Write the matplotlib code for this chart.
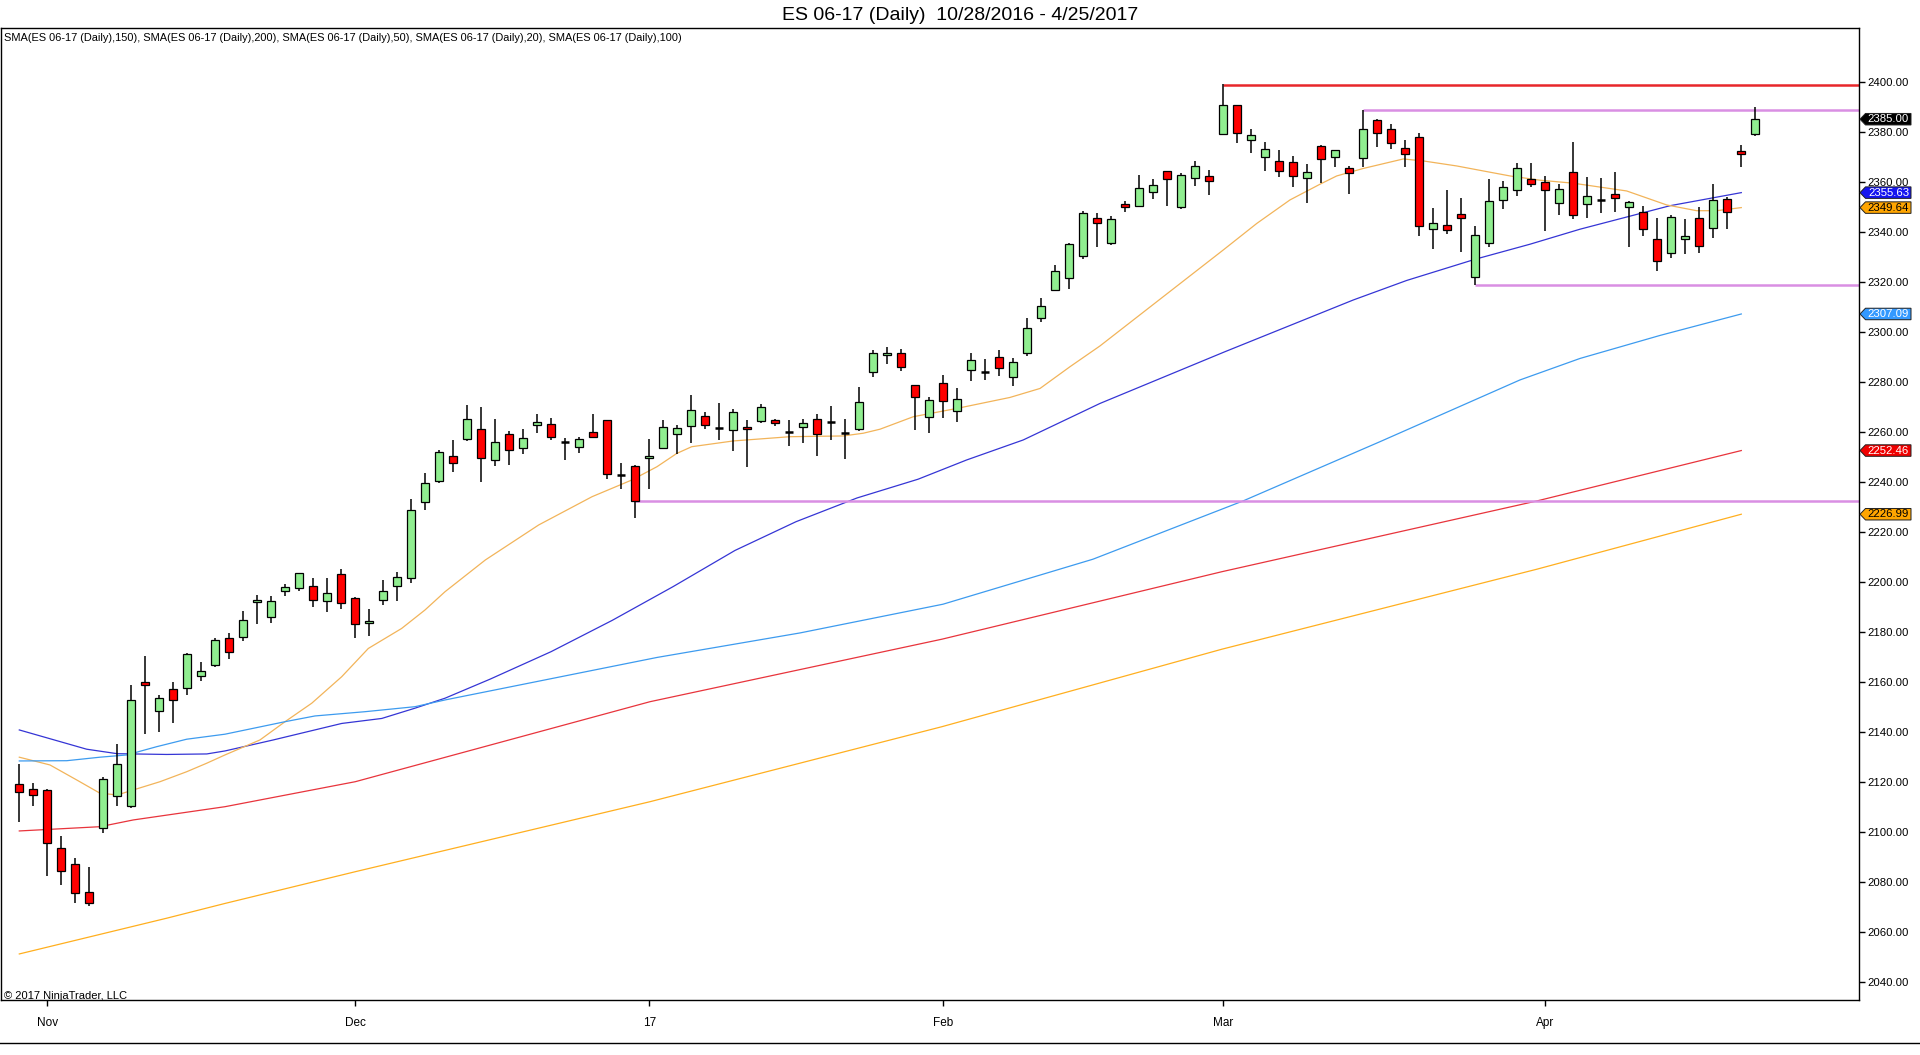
import matplotlib
matplotlib.use("Agg")
import matplotlib.pyplot as plt
import numpy as np
from matplotlib.patches import Polygon
from matplotlib.lines import Line2D
from matplotlib.transforms import blended_transform_factory

plt.rcParams['font.family'] = ['Liberation Sans', 'DejaVu Sans']

# ---------------- data ----------------
opens = [2119.0, 2117.0, 2116.6, 2093.4, 2087.0, 2075.8, 2101.4, 2114.2, 2110.2, 2159.7,
         2148.2, 2157.2, 2157.3, 2162.2, 2166.7, 2177.3, 2178.0, 2191.7, 2186.0, 2196.1,
         2197.3, 2198.1, 2192.3, 2203.0, 2193.3, 2183.3, 2192.5, 2198.2, 2201.3, 2231.7,
         2240.2, 2250.1, 2256.9, 2260.9, 2248.5, 2258.9, 2253.4, 2262.6, 2262.9, 2256.0,
         2253.8, 2259.7, 2264.5, 2242.7, 2246.1, 2249.3, 2253.6, 2258.9, 2262.1, 2266.1,
         2261.6, 2260.5, 2261.7, 2264.2, 2264.7, 2259.7, 2262.0, 2264.9, 2263.9, 2259.6,
         2261.0, 2283.7, 2290.5, 2291.3, 2278.5, 2266.0, 2279.3, 2268.2, 2284.5, 2284.0,
         2289.7, 2281.7, 2291.3, 2305.3, 2316.5, 2321.4, 2330.1, 2345.3, 2335.3, 2350.9,
         2350.3, 2355.7, 2364.1, 2349.7, 2361.3, 2362.1, 2378.9, 2390.5, 2376.5, 2369.7,
         2368.2, 2367.8, 2361.3, 2374.1, 2369.7, 2365.6, 2369.4, 2384.5, 2381.0, 2373.3,
         2377.7, 2340.9, 2342.8, 2346.9, 2321.7, 2335.3, 2352.5, 2356.5, 2360.9, 2359.7,
         2351.4, 2363.9, 2351.0, 2352.8, 2355.0, 2349.7, 2347.7, 2336.9, 2331.3, 2337.2,
         2345.5, 2341.4, 2353.1, 2372.3, 2379.0]
highs = [2127.1, 2119.6, 2117.0, 2098.3, 2089.4, 2086.0, 2121.9, 2135.1, 2158.7, 2170.3,
         2154.6, 2159.8, 2171.3, 2167.7, 2177.3, 2179.3, 2188.3, 2194.7, 2194.3, 2199.1,
         2203.6, 2201.3, 2201.3, 2204.9, 2193.7, 2188.9, 2200.7, 2203.7, 2233.1, 2243.3,
         2252.6, 2256.7, 2270.7, 2269.7, 2264.9, 2260.3, 2261.0, 2267.1, 2265.3, 2257.4,
         2257.7, 2267.1, 2264.5, 2247.4, 2246.8, 2257.1, 2264.7, 2262.5, 2274.5, 2267.9,
         2271.5, 2269.1, 2264.7, 2271.1, 2264.9, 2264.7, 2265.0, 2266.9, 2270.1, 2265.0,
         2277.7, 2292.7, 2293.9, 2292.9, 2278.5, 2273.7, 2282.7, 2277.3, 2291.3, 2288.9,
         2292.5, 2289.4, 2305.5, 2313.4, 2326.5, 2335.4, 2348.4, 2347.3, 2346.3, 2352.1,
         2362.7, 2361.1, 2364.1, 2363.3, 2368.3, 2364.7, 2398.9, 2390.5, 2381.1, 2375.7,
         2372.7, 2370.4, 2367.0, 2374.5, 2372.5, 2366.3, 2388.7, 2385.1, 2383.1, 2376.7,
         2379.3, 2349.5, 2356.7, 2353.5, 2342.3, 2361.1, 2360.4, 2367.5, 2367.6, 2362.3,
         2359.1, 2375.9, 2361.7, 2361.3, 2363.9, 2352.3, 2350.1, 2345.5, 2346.5, 2344.9,
         2349.7, 2358.9, 2353.7, 2374.7, 2390.0]
lows = [2104.0, 2110.4, 2082.4, 2078.8, 2071.4, 2070.4, 2099.6, 2110.4, 2109.6, 2139.2,
        2140.0, 2143.6, 2154.6, 2160.4, 2165.7, 2169.2, 2176.4, 2183.2, 2183.6, 2194.4,
        2196.4, 2190.0, 2188.0, 2189.2, 2177.6, 2178.3, 2190.6, 2192.4, 2199.4, 2228.8,
        2239.6, 2244.0, 2256.4, 2240.0, 2246.4, 2246.8, 2251.2, 2259.6, 2256.7, 2248.8,
        2251.6, 2257.6, 2241.0, 2237.0, 2225.4, 2237.0, 2253.2, 2251.2, 2255.6, 2260.9,
        2256.8, 2252.4, 2245.7, 2263.6, 2262.4, 2254.4, 2255.6, 2250.3, 2256.8, 2249.0,
        2260.3, 2281.7, 2286.9, 2284.4, 2260.7, 2259.6, 2265.6, 2264.0, 2280.4, 2280.7,
        2282.4, 2278.4, 2290.4, 2304.0, 2316.1, 2317.2, 2329.2, 2334.0, 2334.8, 2348.0,
        2349.9, 2353.1, 2350.4, 2348.9, 2358.4, 2354.8, 2378.9, 2375.6, 2371.6, 2364.4,
        2362.0, 2358.0, 2351.6, 2359.6, 2366.0, 2355.2, 2366.0, 2374.0, 2373.2, 2366.0,
        2338.4, 2333.2, 2338.9, 2332.0, 2318.7, 2334.0, 2349.2, 2354.4, 2358.0, 2340.4,
        2346.8, 2345.0, 2345.4, 2347.6, 2348.0, 2333.7, 2338.1, 2324.4, 2329.4, 2331.0,
        2331.6, 2337.6, 2341.0, 2366.0, 2378.3]
closes = [2115.8, 2114.6, 2095.4, 2084.2, 2075.4, 2071.4, 2121.0, 2126.9, 2152.6, 2158.5,
          2153.4, 2152.6, 2171.0, 2164.1, 2176.5, 2172.0, 2184.7, 2192.7, 2192.3, 2197.7,
          2203.3, 2192.5, 2195.3, 2191.4, 2183.2, 2184.3, 2196.1, 2202.0, 2228.5, 2239.4,
          2251.7, 2247.3, 2264.9, 2249.3, 2255.7, 2252.5, 2257.3, 2263.7, 2257.8, 2256.0,
          2257.0, 2258.0, 2242.9, 2242.7, 2232.2, 2250.1, 2261.7, 2261.3, 2268.5, 2262.5,
          2261.6, 2267.7, 2260.9, 2269.7, 2263.3, 2259.7, 2263.3, 2258.9, 2263.9, 2259.6,
          2271.7, 2291.3, 2291.5, 2286.0, 2273.7, 2272.5, 2272.1, 2273.2, 2288.5, 2284.0,
          2285.4, 2287.7, 2301.4, 2310.2, 2324.1, 2335.0, 2347.6, 2343.3, 2344.9, 2350.0,
          2357.3, 2358.5, 2361.0, 2362.5, 2366.2, 2360.1, 2390.5, 2379.3, 2378.5, 2373.0,
          2364.2, 2362.1, 2363.8, 2368.9, 2372.5, 2363.3, 2381.0, 2379.6, 2375.4, 2371.0,
          2342.4, 2343.3, 2340.5, 2345.3, 2338.5, 2352.1, 2357.7, 2365.3, 2359.2, 2356.5,
          2357.0, 2346.8, 2354.1, 2352.8, 2353.3, 2351.7, 2340.9, 2328.1, 2345.7, 2338.3,
          2334.1, 2352.5, 2347.7, 2371.0, 2385.0]

month_labels = ["Nov", "Dec", "17", "Feb", "Mar", "Apr"]
month_bars = [2, 24, 45, 66, 86, 109]

# moving averages (bar position, value)
sma20_x = [0, 2.19, 4.1, 5.76, 7.0, 8.14, 10.05, 11.96, 13.39, 14.69, 17.19, 18.98, 20.89,
           23.03, 24.93, 27.31, 28.98, 30.41, 33.29, 37.1, 40.91, 43.76, 45.55, 46.96, 48.03,
           51.0, 55.05, 58.86, 60.29, 61.48, 63.86, 66.96, 70.76, 72.91, 75.05, 77.19, 81.48,
           86.0, 88.39, 90.76, 92.91, 94.1, 96.0, 98.86, 100.29, 102.67, 104.57, 106.48,
           108.62, 111.0, 114.81, 117.67, 119.81, 121.24, 123]
sma20_y = [2129.8, 2126.7, 2120.7, 2115.4, 2114.7, 2116.7, 2120.0, 2124.0, 2127.4, 2130.7,
           2136.7, 2144.0, 2151.4, 2162.0, 2173.3, 2181.3, 2188.7, 2196.0, 2208.7, 2222.7,
           2234.0, 2240.7, 2246.0, 2251.3, 2254.0, 2256.3, 2258.0, 2258.3, 2259.4, 2261.0,
           2266.0, 2269.3, 2273.7, 2277.3, 2286.0, 2294.3, 2313.0, 2332.7, 2343.3, 2352.7,
           2359.0, 2362.3, 2365.3, 2369.1, 2368.3, 2366.3, 2364.3, 2362.3, 2360.6, 2359.4,
           2356.3, 2350.7, 2348.4, 2348.4, 2349.64]
sma50_x = [0, 4.81, 7.0, 10.53, 13.39, 14.69, 18.14, 23.03, 25.89, 28.26, 30.41, 33.62, 37.98,
           42.34, 46.69, 51.12, 55.48, 59.84, 64.2, 67.67, 71.71, 77.19, 86.12, 95.29, 99.1,
           104.0, 107.91, 111.48, 117.91, 123]
sma50_y = [2140.7, 2133.0, 2131.2, 2130.9, 2131.1, 2132.3, 2136.7, 2143.3, 2145.3, 2149.4,
           2153.4, 2161.0, 2172.0, 2184.5, 2198.0, 2212.5, 2224.0, 2233.5, 2241.0, 2248.7,
           2256.7, 2271.3, 2292.0, 2312.7, 2320.5, 2329.0, 2335.0, 2341.0, 2350.4, 2355.63]
sma100_x = [0, 3.39, 5.76, 7.67, 9.81, 11.96, 14.69, 18.98, 21.12, 24.69, 28.26, 30.41, 45.55,
            55.76, 65.98, 76.69, 87.41, 97.19, 107.19, 111.48, 117.19, 123]
sma100_y = [2128.3, 2128.4, 2129.8, 2130.7, 2134.0, 2137.0, 2139.0, 2144.0, 2146.3, 2148.0,
            2150.0, 2152.7, 2169.7, 2179.5, 2191.0, 2209.0, 2232.3, 2256.0, 2280.7, 2289.3,
            2298.5, 2307.09]
sma150_x = [0, 5.76, 8.14, 14.69, 24.0, 45.05, 65.9, 85.9, 108.4, 123]
sma150_y = [2100.3, 2102.0, 2104.7, 2110.0, 2120.0, 2152.0, 2177.0, 2204.0, 2232.3, 2252.46]
sma200_x = [0, 10.53, 14.69, 24.0, 45.05, 65.9, 85.9, 108.4, 123]
sma200_y = [2051.1, 2065.4, 2071.3, 2084.0, 2112.0, 2142.0, 2173.0, 2205.0, 2226.99]

# drawn horizontal levels (start bar, price)
level_bars = [86, 96, 104, 44]
level_prices = [2398.7, 2388.7, 2318.7, 2232.2]

tag_values = [2385.00, 2355.63, 2349.64, 2307.09, 2252.46, 2226.99]

title = "ES 06-17 (Daily)  10/28/2016 - 4/25/2017"
legend_text = ("SMA(ES 06-17 (Daily),150), SMA(ES 06-17 (Daily),200), SMA(ES 06-17 (Daily),50), "
               "SMA(ES 06-17 (Daily),20), SMA(ES 06-17 (Daily),100)")
copyright_text = "\u00a9 2017 NinjaTrader, LLC"

# ---------------- figure ----------------
W, H = 1920, 1055
fig = plt.figure(figsize=(W / 100, H / 100), dpi=100)
fig.patch.set_facecolor('white')
ax_l, ax_r, ax_t, ax_b = 1, 1859, 28, 1000
ax = fig.add_axes([ax_l / W, (H - ax_b) / H, (ax_r - ax_l) / W, (ax_b - ax_t) / H])

# y: 2400 at px 81.7, 2.5 px per point ; x: bar 0 at px 19.3, 14 px per bar
y_top = 2400 + (81.7 - ax_t) / 2.5
y_bot = 2400 - (ax_b - 81.7) / 2.5
x_left = (ax_l - 19.3) / 14
x_right = (ax_r - 19.3) / 14
ax.set_xlim(x_left, x_right)
ax.set_ylim(y_bot, y_top)

o = np.array(opens); h = np.array(highs); l = np.array(lows); c = np.array(closes)
x = np.arange(len(o))

# SMA lines
lw_sma = 0.9
ax.plot(sma150_x, sma150_y, color='#E8343C', lw=lw_sma, zorder=2)
ax.plot(sma200_x, sma200_y, color='#FFAF1F', lw=lw_sma, zorder=2)
ax.plot(sma50_x, sma50_y, color='#3535D5', lw=lw_sma, zorder=2)
ax.plot(sma20_x, sma20_y, color='#F2B45A', lw=lw_sma, zorder=2)
ax.plot(sma100_x, sma100_y, color='#3D9BEF', lw=lw_sma, zorder=2)

# levels
level_colors = ['#E8262A', '#D98FE3', '#D98FE3', '#D98FE3']
for b, p, col in zip(level_bars, level_prices, level_colors):
    ax.hlines(p, b, x_right, color=col, lw=1.8, zorder=2.5)

# candles
ax.vlines(x, l, h, color='black', lw=1.1, zorder=3)
bw = 0.57
doji = np.abs(c - o) < 0.3
body = ~doji
cols = np.where(c >= o, '#90EE90', '#FF0000')
ax.bar(x[body], np.abs(c - o)[body], bottom=np.minimum(o, c)[body], width=bw,
       color=cols[body], edgecolor='black', linewidth=0.9, zorder=4)
ax.hlines(o[doji], x[doji] - bw / 2, x[doji] + bw / 2, color='black', lw=1.8, zorder=4)

# axes styling
for s in ax.spines.values():
    s.set_color('black')
    s.set_linewidth(1.0)
ax.yaxis.tick_right()
yt = np.arange(2040, 2401, 20)
ax.set_yticks(yt)
ax.set_yticklabels([f"{v:.2f}" for v in yt])
ax.tick_params(axis='y', direction='out', length=4.3, width=1, pad=1.5, labelsize=8.2,
               colors='black')
ax.set_xticks(month_bars)
ax.set_xticklabels(month_labels)
ax.tick_params(axis='x', direction='out', length=4, width=1, pad=8, labelsize=8.5)

# value tags on the price axis
trans = blended_transform_factory(ax.transAxes, ax.transData)
def fx(px):
    return (px - ax_l) / (ax_r - ax_l)
tag_bg = ['black', '#1515F0', '#FFA500', '#3399FF', '#F00000', '#FFA500']
tag_fg = ['white', 'white', 'black', 'white', 'white', 'black']
hh = 2.3
for v, bg, fg in zip(tag_values, tag_bg, tag_fg):
    pts = [(fx(1860), v), (fx(1865.5), v + hh), (fx(1911), v + hh),
           (fx(1911), v - hh), (fx(1865.5), v - hh)]
    poly = Polygon(pts, closed=True, facecolor=bg, edgecolor='#202020', lw=0.7,
                   transform=trans, clip_on=False, zorder=6)
    ax.add_patch(poly)
    ax.text(fx(1888.5), v, f"{v:.2f}", transform=trans, ha='center', va='center',
            color=fg, fontsize=8.2, clip_on=False, zorder=7)

# texts
fig.text(960 / W, 1 - 15 / H, title, ha='center', va='center', fontsize=14)
fig.text(4 / W, 1 - 38 / H, legend_text, ha='left', va='center', fontsize=7.9)
fig.text(4 / W, 1 - 996 / H, copyright_text, ha='left', va='center', fontsize=8)

fig.add_artist(Line2D([0, 1], [12 / H, 12 / H], color='black', lw=1.0,
                      transform=fig.transFigure))

fig.savefig('out.png', dpi=100, facecolor='white')
